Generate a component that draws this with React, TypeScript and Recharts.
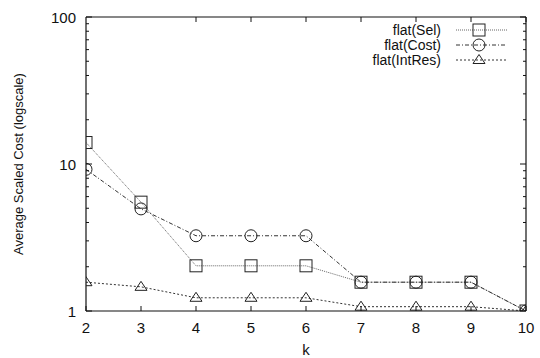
import React from 'react';
import { ComposedChart, Line, XAxis, YAxis } from 'recharts';

// k values on the x axis
const kValues = [2, 3, 4, 5, 6, 7, 8, 9, 10];

// average scaled cost per strategy
const selValues = [14, 5.5, 2.03, 2.03, 2.03, 1.57, 1.57, 1.57, 1.0];
const costValues = [9.2, 4.95, 3.25, 3.25, 3.25, 1.57, 1.57, 1.57, 1.0];
const intResValues = [1.57, 1.46, 1.23, 1.23, 1.23, 1.07, 1.07, 1.07, 1.0];

// log axis ticks: labelled decades plus minor ticks
const yMajorTicks = [1, 10, 100];
const yAllTicks = [1, 2, 3, 4, 5, 6, 7, 8, 9, 10, 20, 30, 40, 50, 60, 70, 80, 90, 100];

const W = 540;
const H = 358;
const FONT = '"Liberation Sans", Arial, Helvetica, sans-serif';
const INK = '#111';

type MarkerKind = 'square' | 'circle' | 'triangle';

const seriesDefs: { key: string; name: string; dash: string; stroke: string; marker: MarkerKind }[] = [
  { key: 'sel', name: 'flat(Sel)', dash: '1 1', stroke: '#666', marker: 'square' },
  { key: 'cost', name: 'flat(Cost)', dash: '4 2 1 2', stroke: '#333', marker: 'circle' },
  { key: 'intres', name: 'flat(IntRes)', dash: '2 2', stroke: '#333', marker: 'triangle' },
];

const data = kValues.map((k, i) => ({
  k,
  sel: selValues[i],
  cost: costValues[i],
  intres: intResValues[i],
}));

function Marker({ kind, cx, cy }: { kind: MarkerKind; cx: number; cy: number }) {
  const s = '#222';
  if (kind === 'square') {
    return <rect x={cx - 6} y={cy - 6} width={12} height={12} fill="none" stroke={s} strokeWidth={1} />;
  }
  if (kind === 'circle') {
    return <circle cx={cx} cy={cy} r={6} fill="none" stroke={s} strokeWidth={1} />;
  }
  return (
    <polygon
      points={`${cx},${cy - 5.5} ${cx - 6},${cy + 3.5} ${cx + 6},${cy + 3.5}`}
      fill="none"
      stroke={s}
      strokeWidth={1}
    />
  );
}

const makeDot = (kind: MarkerKind) => (props: any) => {
  const { cx, cy, index } = props;
  if (cx == null || cy == null) return <g key={`m-${kind}-${index}`} />;
  return (
    <g key={`m-${kind}-${index}`}>
      <Marker kind={kind} cx={cx} cy={cy} />
    </g>
  );
};

// ticks drawn inward from the frame, labels outside
const LeftTick = (props: any) => {
  const { x, y, payload } = props;
  const major = yMajorTicks.includes(payload.value);
  return (
    <g>
      <line x1={x} y1={y} x2={x + (major ? 6 : 3)} y2={y} stroke={INK} strokeWidth={1} />
      {major && (
        <text x={x - 10} y={y} textAnchor="end" dominantBaseline="central" fontSize={15} fontFamily={FONT} fill={INK}>
          {payload.value}
        </text>
      )}
    </g>
  );
};

const RightTick = (props: any) => {
  const { x, y, payload } = props;
  const major = yMajorTicks.includes(payload.value);
  return <line x1={x} y1={y} x2={x - (major ? 6 : 3)} y2={y} stroke={INK} strokeWidth={1} />;
};

const BottomTick = (props: any) => {
  const { x, y, payload } = props;
  return (
    <g>
      <line x1={x} y1={y} x2={x} y2={y - 5} stroke={INK} strokeWidth={1} />
      <text x={x} y={y + 16} textAnchor="middle" dominantBaseline="central" fontSize={15} fontFamily={FONT} fill={INK}>
        {payload.value}
      </text>
    </g>
  );
};

const TopTick = (props: any) => {
  const { x, y } = props;
  return <line x1={x} y1={y} x2={x} y2={y + 5} stroke={INK} strokeWidth={1} />;
};

function LegendOverlay() {
  const textRight = 441;
  const lineStart = 456;
  const lineEnd = 507;
  const markerX = 479;
  const rows = [30, 45, 60];
  return (
    <svg width={W} height={H} style={{ position: 'absolute', left: 0, top: 0, pointerEvents: 'none' }}>
      {seriesDefs.map((s, i) => (
        <g key={s.key}>
          <text
            x={textRight}
            y={rows[i]}
            textAnchor="end"
            dominantBaseline="central"
            fontSize={14}
            fontFamily={FONT}
            fill={INK}
          >
            {s.name}
          </text>
          <line x1={lineStart} y1={rows[i]} x2={lineEnd} y2={rows[i]} stroke={s.stroke} strokeDasharray={s.dash} />
          <Marker kind={s.marker} cx={markerX} cy={rows[i]} />
        </g>
      ))}
    </svg>
  );
}

export default function App() {
  return (
    <div style={{ position: 'absolute', left: 0, top: 0, width: W, height: H, background: '#fff' }}>
      <ComposedChart width={W} height={H} data={data} margin={{ top: 0, right: 0, bottom: 0, left: 0 }}>
        <XAxis
          xAxisId="bottom"
          dataKey="k"
          type="number"
          domain={[2, 10]}
          ticks={kValues}
          interval={0}
          height={47}
          tickSize={0}
          tickMargin={0}
          tickLine={false}
          tick={BottomTick}
          axisLine={{ stroke: INK, strokeWidth: 1.2 }}
          allowDataOverflow
          label={{ value: 'k', position: 'insideBottom', offset: 3, fontSize: 15, fontFamily: FONT, fill: INK }}
        />
        <XAxis
          xAxisId="top"
          orientation="top"
          type="number"
          domain={[2, 10]}
          ticks={kValues}
          interval={0}
          height={17}
          tickSize={0}
          tickMargin={0}
          tickLine={false}
          tick={TopTick}
          axisLine={{ stroke: INK, strokeWidth: 1.2 }}
          allowDataOverflow
        />
        <YAxis
          yAxisId="left"
          scale="log"
          domain={[1, 100]}
          ticks={yAllTicks}
          interval={0}
          width={86}
          tickSize={0}
          tickMargin={0}
          tickLine={false}
          tick={LeftTick}
          axisLine={{ stroke: INK, strokeWidth: 1.2 }}
          allowDataOverflow
          label={{
            value: 'Average Scaled Cost (logscale)',
            angle: -90,
            position: 'insideLeft',
            offset: 18,
            fontSize: 13,
            fontFamily: FONT,
            fill: INK,
            style: { textAnchor: 'middle' },
          }}
        />
        <YAxis
          yAxisId="right"
          orientation="right"
          scale="log"
          domain={[1, 100]}
          ticks={yAllTicks}
          interval={0}
          width={14}
          tickSize={0}
          tickMargin={0}
          tickLine={false}
          tick={RightTick}
          axisLine={{ stroke: INK, strokeWidth: 1.2 }}
          allowDataOverflow
        />
        {seriesDefs.map((s) => (
          <Line
            key={s.key}
            xAxisId="bottom"
            yAxisId="left"
            type="linear"
            dataKey={s.key}
            name={s.name}
            stroke={s.stroke}
            strokeWidth={1}
            strokeDasharray={s.dash}
            dot={makeDot(s.marker)}
            activeDot={false}
            isAnimationActive={false}
          />
        ))}
      </ComposedChart>
      <LegendOverlay />
    </div>
  );
}
